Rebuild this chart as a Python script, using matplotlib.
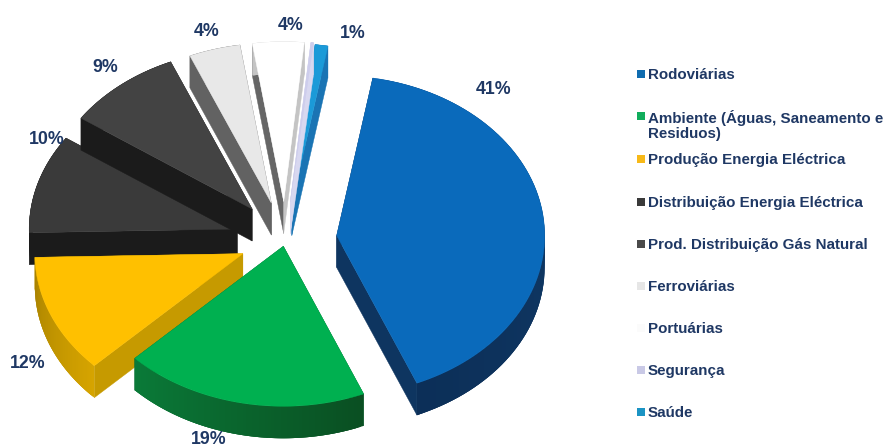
#Exploded 3D pie of investment shares per sector, drawn wedge by wedge

import numpy as np
import matplotlib
matplotlib.use('Agg')
import matplotlib.pyplot as plt
from matplotlib.colors import to_rgb
from matplotlib.patches import Polygon, Rectangle

sectors = ['Rodoviárias', 'Ambiente (Águas, Saneamento e\nResiduos)',
           'Produção Energia Eléctrica', 'Distribuição Energia Eléctrica',
           'Prod. Distribuição Gás Natural', 'Ferroviárias', 'Portuárias',
           'Segurança', 'Saúde']
shares = [41, 19, 12, 10, 9, 4, 4, 0.2, 1]
share_labels = ['41%', '19%', '12%', '10%', '9%', '4%', '4%', None, '1%']

top_colors = ['#0a6abb', '#00b050', '#ffc000', '#3a3a3a', '#434343',
              '#e8e8e8', '#ffffff', '#cdcdec', '#1b9ad8']
legend_colors = ['#0f6cb0', '#11ad5c', '#f7b918', '#3a3a3a', '#4a4a4a',
                 '#e6e6e6', '#fbfbfb', '#c9c9e6', '#1b94c4']
# walls on the two straight cuts of each wedge
wall_start = ['#0e3560', '#04612c', '#c69a00', '#1b1b1b', '#1b1b1b',
              '#626262', '#666666', '#d8d8f0', '#1a74b4']
wall_end = ['#0e3560', '#04612c', '#c69a00', '#1b1b1b', '#1b1b1b',
            '#626262', '#c4c4c4', '#d8d8f0', '#1a74b4']
# outer rim goes from one colour to the other along the arc
rim_from = ['#12406f', '#0a4f22', '#d6a400', '#1b1b1b', '#1b1b1b',
            '#626262', '#c4c4c4', '#d8d8f0', '#1a74b4']
rim_to = ['#0c2f58', '#0a7a38', '#a88200', '#1b1b1b', '#1b1b1b',
          '#626262', '#c4c4c4', '#d8d8f0', '#1a74b4']
explode = [0.25, 0.04, 0.22, 0.24, 0.25, 0.24, 0.24, 0.24, 0.23]

CX, CY = 285, 240
RX, RY = 208, 160
DEPTH = 32
START = 10.0
TEXT_COLOR = '#1f3864'
FONT = 'Liberation Sans'


def ellipse_point(theta, r=1.0):
    '''
    Point on the tilted pie for an angle measured clockwise from the top.
    '''
    t = np.radians(theta)
    return np.array([r * RX * np.sin(t), -r * RY * np.cos(t)])


def draw_wedge(ax, i, t0, t1, z):
    '''
    Draw one extruded wedge: walls and rim first, top surface over them.
    '''
    mid = (t0 + t1) / 2
    apex = np.array([CX, CY]) + ellipse_point(mid, explode[i])
    angles = np.linspace(t0, t1, 80)
    arc = np.array([apex + ellipse_point(a) for a in angles])
    down = np.array([0, DEPTH])

    for corner, color in ((arc[0], wall_start[i]), (arc[-1], wall_end[i])):
        quad = [apex, corner, corner + down, apex + down]
        ax.add_patch(Polygon(quad, facecolor=color, edgecolor=color,
                             lw=0.3, zorder=z))

    # each rim piece overlaps the next one so no seams show between them
    c0, c1 = np.array(to_rgb(rim_from[i])), np.array(to_rgb(rim_to[i]))
    n = len(arc)
    for k in range(n - 1):
        color = tuple(c0 + (c1 - c0) * k / (n - 2))
        end = arc[min(k + 3, n - 1)]
        quad = [arc[k], end, end + down, arc[k] + down]
        ax.add_patch(Polygon(quad, facecolor=color, lw=0, zorder=z))

    top = np.vstack([apex, arc])
    ax.add_patch(Polygon(top, facecolor=top_colors[i], edgecolor=top_colors[i],
                         lw=0.3, zorder=z + 0.5))


fig = plt.figure(figsize=(8.93, 4.48), dpi=100)
ax = fig.add_axes([0, 0, 1, 1])
ax.set_xlim(0, 893)
ax.set_ylim(448, 0)
ax.axis('off')

sweep = 360 * np.array(shares) / sum(shares)
edges = START + np.concatenate([[0], np.cumsum(sweep)])

# back wedges first so the front ones overlap them
draw_order = [8, 7, 6, 5, 3, 4, 2, 1, 0]
for z, i in enumerate(draw_order):
    draw_wedge(ax, i, edges[i], edges[i + 1], 2 + z)

label_x = [494, 209, 28, 47, 105, 207, 291, None, 353]
label_y = [90, 440, 363, 140, 67, 32, 25, None, 33]
for text, x, y in zip(share_labels, label_x, label_y):
    if text is None:
        continue
    ax.text(x, y, text, color=TEXT_COLOR, fontsize=12.8, fontweight='bold',
            family=FONT, ha='center', va='center', zorder=20)

legend_y = [74, 116, 159, 202, 244, 286, 328, 370, 412]
for name, color, y in zip(sectors, legend_colors, legend_y):
    ax.add_patch(Rectangle((637, y - 4), 8, 8, facecolor=color, lw=0, zorder=20))
    ax.text(648, y - 6, name, color=TEXT_COLOR, fontsize=10.9, fontweight='bold',
            family=FONT, ha='left', va='top', linespacing=1.05, zorder=20)

fig.savefig('out.png', dpi=100)
